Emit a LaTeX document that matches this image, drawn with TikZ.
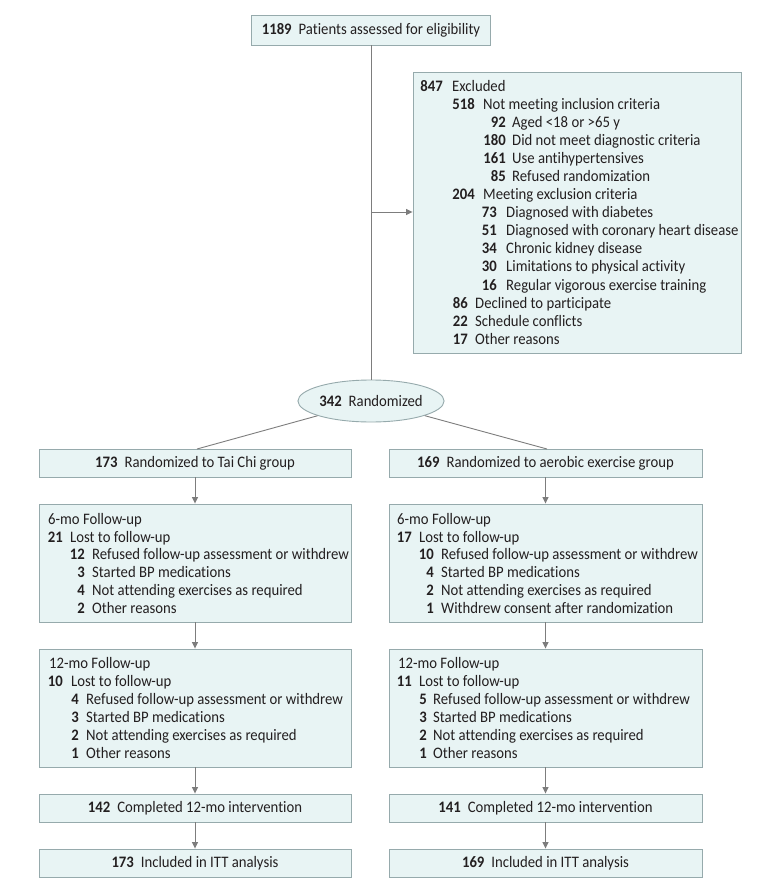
\documentclass[tikz,border=0pt]{standalone}
\usepackage{fontspec}
\setmainfont[FakeStretch=0.92,Ligatures=NoCommon]{Carlito}
\usetikzlibrary{shapes.geometric,arrows.meta}
\definecolor{boxfill}{RGB}{232,244,244}
\definecolor{boxline}{RGB}{150,170,172}
\definecolor{conline}{RGB}{125,125,125}
\definecolor{txt}{RGB}{35,31,32}
\newcommand\frow[6]{%
  \node[rowtxt, anchor=base east] (#1n) at (#2,#4+5) {\textbf{#5}};
  \node[rowtxt, anchor=base west] (#1t) at (#3,#4+5) {#6};}
\newcommand\hrow[4]{%
  \node[rowtxt, anchor=base west] (#1) at (#2,#3+5) {#4};}
\newcommand\ngap{\hspace{7pt}}
\begin{document}
\begin{tikzpicture}[x=1pt,y=-1pt,
  font=\fontsize{16}{18}\selectfont, text=txt,
  box/.style={draw=boxline, fill=boxfill, line width=0.9pt, inner sep=0pt},
  rowtxt/.style={inner sep=0pt, text=txt},
  conn/.style={draw=conline, line width=0.9pt},
  arr/.style={conn, -{Triangle[length=6.5pt,width=6pt]}}]
\useasboundingbox (0,0) rectangle (780,890);
\fill[white] (0,0) rectangle (780,890);
% top
\node[box, minimum width=239pt, minimum height=30pt] (top) at (371,30) {\textbf{1189}\ngap Patients assessed for eligibility};
% excluded
\node[box, minimum width=328pt, minimum height=281pt] (excl) at (577,212.5) {};
\frow{e0}{443}{452}{87}{847}{Excluded}
\frow{e1}{475}{483}{105}{518}{Not meeting inclusion criteria}
\frow{e2}{506}{512}{123}{92}{Aged <18 or >65 y}
\frow{e3}{506}{512}{141}{180}{Did not meet diagnostic criteria}
\frow{e4}{506}{512}{159}{161}{Use antihypertensives}
\frow{e5}{506}{512}{177}{85}{Refused randomization}
\frow{e6}{475}{483}{195}{204}{Meeting exclusion criteria}
\frow{e7}{497}{506}{213}{73}{Diagnosed with diabetes}
\frow{e8}{497}{506}{231}{51}{Diagnosed with coronary heart disease}
\frow{e9}{497}{506}{249}{34}{Chronic kidney disease}
\frow{e10}{497}{506}{267}{30}{Limitations to physical activity}
\frow{e11}{497}{506}{285}{16}{Regular vigorous exercise training}
\frow{e12}{468}{475}{303}{86}{Declined to participate}
\frow{e13}{468}{475}{321}{22}{Schedule conflicts}
\frow{e14}{468}{475}{339}{17}{Other reasons}
% randomized
\node[ellipse, draw=boxline, fill=boxfill, line width=0.9pt, inner sep=0pt, minimum width=146pt, minimum height=42pt] (rand) at (371,401) {\textbf{342}\ngap Randomized};
% left column
\node[box, minimum width=312pt, minimum height=28pt] (a1) at (195,463) {\textbf{173}\ngap Randomized to Tai Chi group};
\node[box, minimum width=312pt, minimum height=118pt] (a2) at (195,563) {};
\hrow{a2h}{48}{519}{6-mo Follow-up}
\frow{a2r1}{63}{70}{537}{21}{Lost to follow-up}
\frow{a2r2}{85}{92}{554.8}{12}{Refused follow-up assessment or withdrew}
\frow{a2r3}{85}{92}{572.6}{3}{Started BP medications}
\frow{a2r4}{85}{92}{590.4}{4}{Not attending exercises as required}
\frow{a2r5}{85}{92}{608.2}{2}{Other reasons}
\node[box, minimum width=312pt, minimum height=118pt] (a3) at (195,708) {};
\hrow{a3h}{49}{663}{12-mo Follow-up}
\frow{a3r1}{63}{71}{681}{10}{Lost to follow-up}
\frow{a3r2}{79}{86}{699}{4}{Refused follow-up assessment or withdrew}
\frow{a3r3}{79}{86}{717}{3}{Started BP medications}
\frow{a3r4}{79}{86}{735}{2}{Not attending exercises as required}
\frow{a3r5}{79}{86}{753}{1}{Other reasons}
\node[box, minimum width=312pt, minimum height=28pt] (a4) at (195,808) {\textbf{142}\ngap Completed 12-mo intervention};
\node[box, minimum width=312pt, minimum height=28pt] (a5) at (195,863) {\textbf{173}\ngap Included in ITT analysis};
% right column
\node[box, minimum width=313pt, minimum height=28pt] (b1) at (545.5,463) {\textbf{169}\ngap Randomized to aerobic exercise group};
\node[box, minimum width=313pt, minimum height=118pt] (b2) at (545.5,563) {};
\hrow{b2h}{397}{519}{6-mo Follow-up}
\frow{b2r1}{412}{419}{537}{17}{Lost to follow-up}
\frow{b2r2}{434}{441}{554.8}{10}{Refused follow-up assessment or withdrew}
\frow{b2r3}{434}{441}{572.6}{4}{Started BP medications}
\frow{b2r4}{434}{441}{590.4}{2}{Not attending exercises as required}
\frow{b2r5}{434}{441}{608.2}{1}{Withdrew consent after randomization}
\node[box, minimum width=313pt, minimum height=118pt] (b3) at (545.5,708) {};
\hrow{b3h}{398}{663}{12-mo Follow-up}
\frow{b3r1}{412}{419}{681}{11}{Lost to follow-up}
\frow{b3r2}{427}{433}{699}{5}{Refused follow-up assessment or withdrew}
\frow{b3r3}{427}{433}{717}{3}{Started BP medications}
\frow{b3r4}{427}{433}{735}{2}{Not attending exercises as required}
\frow{b3r5}{427}{433}{753}{1}{Other reasons}
\node[box, minimum width=313pt, minimum height=28pt] (b4) at (545.5,808) {\textbf{141}\ngap Completed 12-mo intervention};
\node[box, minimum width=313pt, minimum height=28pt] (b5) at (545.5,863) {\textbf{169}\ngap Included in ITT analysis};
% connectors
\coordinate (br) at (371,212);
\draw[conn] (top.south) -- (rand.north);
\draw[arr] (br) -- (br -| excl.west);
\coordinate (a1top) at (197,449);
\coordinate (b1top) at (547,449);
\draw[conn] (rand) -- (a1top);
\draw[conn] (rand) -- (b1top);
\draw[arr] (a1.south) -- (a2.north);
\draw[arr] (a2.south) -- (a3.north);
\draw[arr] (a3.south) -- (a4.north);
\draw[arr] (a4.south) -- (a5.north);
\draw[arr] (b1.south) -- (b2.north);
\draw[arr] (b2.south) -- (b3.north);
\draw[arr] (b3.south) -- (b4.north);
\draw[arr] (b4.south) -- (b5.north);
\end{tikzpicture}
\end{document}
